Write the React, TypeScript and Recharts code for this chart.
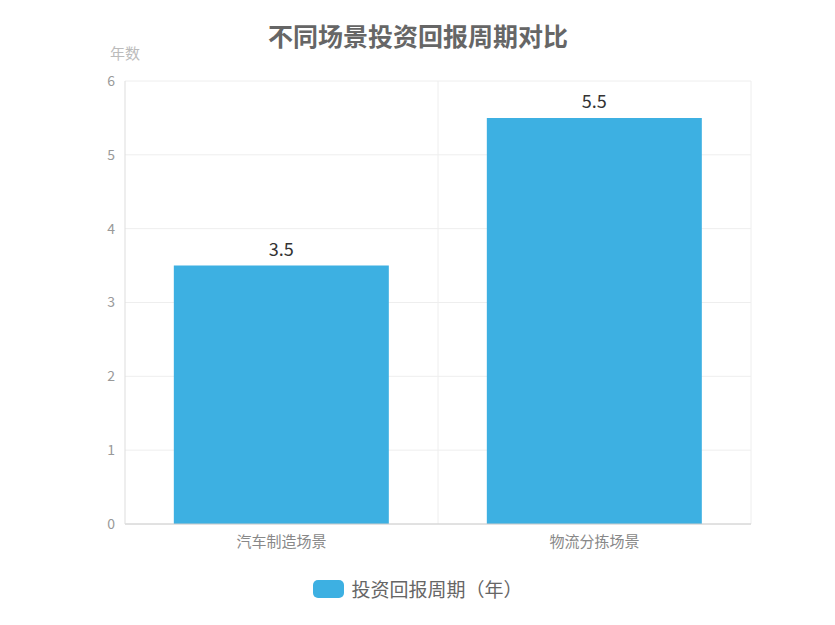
import React from 'react';
import { BarChart, Bar, XAxis, YAxis, CartesianGrid, Legend, LabelList } from 'recharts';

const categories = ['汽车制造场景', '物流分拣场景'];
const paybackYears = [3.5, 5.5];
const yTicks = [0, 1, 2, 3, 4, 5, 6];
const seriesName = '投资回报周期（年）';
const title = '不同场景投资回报周期对比';
const yAxisName = '年数';

const data = categories.map((c, i) => ({ name: c, value: paybackYears[i] }));

const FONT = '"Noto Sans CJK SC", "Noto Sans", sans-serif';
const BAR_COLOR = '#3DB0E2';

const LegendContent = () => (
  <div style={{ display: 'flex', justifyContent: 'center', alignItems: 'center', fontFamily: FONT }}>
    <span style={{ display: 'inline-block', width: 31, height: 18, borderRadius: 5, background: BAR_COLOR, marginRight: 7 }} />
    <span style={{ fontSize: 19, color: '#666' }}>{seriesName}</span>
  </div>
);

export default function App() {
  return (
    <div style={{ position: 'relative', width: 820, height: 610, fontFamily: FONT }}>
      <div style={{ position: 'absolute', left: 0, top: 9, width: 820, textAlign: 'center', fontSize: 25, fontWeight: 'bold', color: '#666', zIndex: 2, lineHeight: '36px' }}>
        {title}
      </div>
      <BarChart width={820} height={610} data={data} margin={{ top: 73, right: 77, left: 77, bottom: 64 }} barCategoryGap="15.6%">
        <CartesianGrid
          stroke="#eee"
          verticalCoordinatesGenerator={({ offset }: any) => [offset.left + offset.width / 2, offset.left + offset.width]}
        />
        <XAxis
          dataKey="name"
          height={30}
          stroke="#ccc"
          tickLine={false}
          tickMargin={6}
          tick={{ fill: '#888', fontSize: 15, fontFamily: FONT }}
        />
        <YAxis
          width={40}
          domain={[0, 6]}
          ticks={yTicks}
          stroke="#ddd"
          tickLine={false}
          tickSize={0}
          tickMargin={10}
          tick={{ fill: '#999', fontSize: 14, fontFamily: FONT }}
          label={{ value: yAxisName, position: 'top', offset: 22, dx: 20, fill: '#bbb', fontSize: 15, fontFamily: FONT }}
        />
        <Legend verticalAlign="middle" content={<LegendContent />} wrapperStyle={{ top: 567, left: 0, width: 820 }} />
        <Bar dataKey="value" name={seriesName} fill={BAR_COLOR} isAnimationActive={false}>
          <LabelList dataKey="value" position="top" offset={10} fill="#333" fontSize={18} fontFamily={FONT} />
        </Bar>
      </BarChart>
    </div>
  );
}
